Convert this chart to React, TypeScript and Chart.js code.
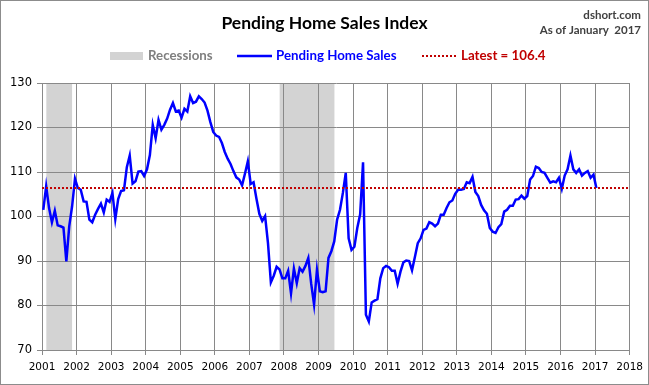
import React, { useEffect, useRef } from "react";
import { Chart, registerables } from "chart.js";

Chart.register(...registerables);

// ---------- data ----------
const CHART_TITLE = "Pending Home Sales Index";
const SOURCE_LINES = ["dshort.com", "As of January  2017"];
const LEGEND_LABELS = ["Recessions", "Pending Home Sales", "Latest = 106.4"];

const START_YEAR = 2001; // first monthly value is January 2001
const X_MIN = 2001;
const X_MAX = 2018;
const Y_MIN = 70;
const Y_MAX = 130;
const Y_STEP = 10;

const sales2001 = [101.5, 106.8, 101.9, 98.7, 101.3, 98.0, 97.8, 97.5, 89.9, 97.8, 102.3, 108.5];
const sales2002 = [106.4, 106.0, 103.4, 103.3, 99.3, 98.7, 100.4, 101.7, 102.9, 100.9, 103.8, 103.3];
const sales2003 = [105.3, 99.4, 103.9, 105.7, 105.9, 111.1, 113.7, 107.4, 107.9, 110.1, 110.2, 109.1];
const sales2004 = [110.6, 113.8, 120.6, 117.6, 121.7, 119.5, 120.6, 122.0, 124.0, 125.5, 123.6, 123.8];
const sales2005 = [122.2, 124.2, 123.6, 127.0, 125.5, 125.8, 127.0, 126.4, 125.6, 123.8, 121.2, 119.0];
const sales2006 = [118.2, 117.9, 116.5, 114.5, 113.0, 111.8, 110.2, 108.8, 108.3, 107.0, 109.6, 112.4];
const sales2007 = [107.3, 107.7, 104.0, 100.6, 99.0, 100.1, 94.0, 85.2, 86.7, 88.7, 88.1, 86.1];
const sales2008 = [86.1, 87.8, 82.7, 88.3, 85.0, 88.4, 87.6, 88.9, 90.7, 84.9, 80.2, 88.0];
const sales2009 = [83.2, 83.0, 83.2, 90.7, 92.2, 94.4, 99.3, 101.5, 105.3, 109.8, 95.1, 92.5];
const sales2010 = [93.2, 97.4, 100.5, 112.2, 77.9, 76.4, 80.7, 81.1, 81.4, 86.1, 88.4, 88.9];
const sales2011 = [88.6, 87.8, 87.8, 84.9, 87.6, 89.7, 90.1, 90.0, 87.9, 90.9, 94.0, 95.1];
const sales2012 = [97.0, 97.3, 98.7, 98.4, 97.8, 98.4, 100.4, 100.4, 101.9, 103.2, 103.6, 105.1];
const sales2013 = [106.0, 106.0, 106.2, 107.7, 107.5, 108.9, 105.5, 104.6, 102.6, 101.4, 100.6, 97.4];
const sales2014 = [96.6, 96.3, 97.6, 98.3, 101.1, 101.5, 102.4, 102.4, 103.8, 103.9, 104.7, 104.0];
const sales2015 = [104.6, 108.3, 109.1, 111.2, 110.9, 110.0, 109.8, 108.7, 107.6, 107.9, 107.7, 108.7];
const sales2016 = [106.2, 109.2, 110.6, 113.7, 110.6, 109.8, 110.6, 109.2, 109.8, 110.2, 108.7, 109.4];
const sales2017 = [106.4];

const pendingHomeSales = [
  ...sales2001, ...sales2002, ...sales2003, ...sales2004, ...sales2005, ...sales2006,
  ...sales2007, ...sales2008, ...sales2009, ...sales2010, ...sales2011, ...sales2012,
  ...sales2013, ...sales2014, ...sales2015, ...sales2016, ...sales2017,
];

const LATEST_VALUE = 106.4;

// recession periods in decimal years
const recessionStarts = [2001.125, 2007.875];
const recessionEnds = [2001.87, 2009.46];

// ---------- styles ----------
const BLUE = "#0000FF";
const RED = "#C00000";
const GRAY_BAND = "#D3D3D3";
const GRID = "#898989";
const TEXT_FONT = 'Lato, "Open Sans", sans-serif';
const AXIS_FONT = '"DejaVu Sans", Verdana, sans-serif';

const recessionPlugin = {
  id: "recessionBands",
  beforeDraw(chart: any) {
    const { ctx, chartArea, scales } = chart;
    const xs = scales.x;
    ctx.save();
    ctx.fillStyle = GRAY_BAND;
    recessionStarts.forEach((s, i) => {
      const x0 = xs.getPixelForValue(s);
      const x1 = xs.getPixelForValue(recessionEnds[i]);
      ctx.fillRect(x0, chartArea.top, x1 - x0, chartArea.bottom - chartArea.top);
    });
    ctx.restore();
  },
};

const headerPlugin = {
  id: "headerAndLegend",
  afterDraw(chart: any) {
    const ctx = chart.ctx;
    const w = chart.width;
    const h = chart.height;
    ctx.save();
    // frame
    ctx.strokeStyle = "#8C8C8C";
    ctx.lineWidth = 1;
    ctx.strokeRect(0.5, 0.5, w - 1, h - 1);

    // title
    ctx.fillStyle = "#000000";
    ctx.font = `bold 17.5px ${TEXT_FONT}`;
    ctx.textAlign = "center";
    ctx.textBaseline = "middle";
    ctx.fillText(CHART_TITLE, w / 2, 23);

    // source text
    ctx.font = `bold 11.5px ${TEXT_FONT}`;
    ctx.fillStyle = "#404040";
    ctx.textAlign = "right";
    ctx.fillText(SOURCE_LINES[0], 641, 15);
    ctx.fillText(SOURCE_LINES[1], 641, 30);

    // legend
    const ly = 56;
    ctx.textAlign = "left";
    ctx.font = `bold 13.3px ${TEXT_FONT}`;
    // recessions
    ctx.fillStyle = GRAY_BAND;
    ctx.fillRect(110, ly - 4, 33, 8);
    ctx.fillStyle = "#7F7F7F";
    ctx.fillText(LEGEND_LABELS[0], 148, ly);
    // pending home sales
    ctx.strokeStyle = BLUE;
    ctx.lineWidth = 2.5;
    ctx.beginPath();
    ctx.moveTo(237, ly);
    ctx.lineTo(272, ly);
    ctx.stroke();
    ctx.fillStyle = BLUE;
    ctx.fillText(LEGEND_LABELS[1], 276, ly);
    // latest
    ctx.strokeStyle = RED;
    ctx.lineWidth = 2;
    ctx.setLineDash([2, 2]);
    ctx.beginPath();
    ctx.moveTo(422, ly);
    ctx.lineTo(456, ly);
    ctx.stroke();
    ctx.setLineDash([]);
    ctx.fillStyle = RED;
    ctx.fillText(LEGEND_LABELS[2], 461, ly);
    ctx.restore();
  },
};

export default function App() {
  const canvasRef = useRef<HTMLCanvasElement | null>(null);

  useEffect(() => {
    if (!canvasRef.current) return;
    const salesPoints = pendingHomeSales.map((v, i) => ({
      x: START_YEAR + (i + 0.45) / 12,
      y: v,
    }));
    const latestPoints = [
      { x: X_MIN, y: LATEST_VALUE },
      { x: X_MAX, y: LATEST_VALUE },
    ];

    const chart = new Chart(canvasRef.current, {
      type: "line",
      data: {
        datasets: [
          {
            label: LEGEND_LABELS[2],
            data: latestPoints,
            borderColor: RED,
            borderWidth: 2,
            borderDash: [2, 2],
            pointRadius: 0,
            fill: false,
            order: 1,
          },
          {
            label: LEGEND_LABELS[1],
            data: salesPoints,
            borderColor: BLUE,
            borderWidth: 2.5,
            pointRadius: 0,
            tension: 0,
            fill: false,
            order: 2,
          },
        ],
      },
      options: {
        responsive: false,
        animation: false,
        devicePixelRatio: 1,
        layout: { padding: { top: 83, right: 18, bottom: 11, left: 8 } },
        plugins: {
          legend: { display: false },
          title: { display: false },
          tooltip: { enabled: false },
        },
        scales: {
          x: {
            type: "linear",
            min: X_MIN,
            max: X_MAX,
            border: { color: GRID },
            grid: { color: GRID, tickLength: 5, lineWidth: 1 },
            ticks: {
              stepSize: 1,
              autoSkip: false,
              maxRotation: 0,
              padding: 6,
              color: "#000000",
              font: { family: AXIS_FONT, size: 10.5 },
              callback: (v: any) => String(v),
            },
            afterFit: (scale: any) => {
              scale.height = 24;
            },
          },
          y: {
            type: "linear",
            min: Y_MIN,
            max: Y_MAX,
            border: { color: GRID },
            grid: { color: GRID, tickLength: 5, lineWidth: 1 },
            ticks: {
              stepSize: Y_STEP,
              padding: 5,
              color: "#000000",
              font: { family: AXIS_FONT, size: 11.5 },
            },
            afterFit: (scale: any) => {
              scale.width = 34;
            },
          },
        },
      },
      plugins: [recessionPlugin, headerPlugin],
    });
    return () => chart.destroy();
  }, []);

  return (
    <div style={{ position: "absolute", left: 0, top: 0, width: 649, height: 385, background: "#ffffff" }}>
      <canvas ref={canvasRef} width={649} height={385} style={{ display: "block" }} />
    </div>
  );
}
